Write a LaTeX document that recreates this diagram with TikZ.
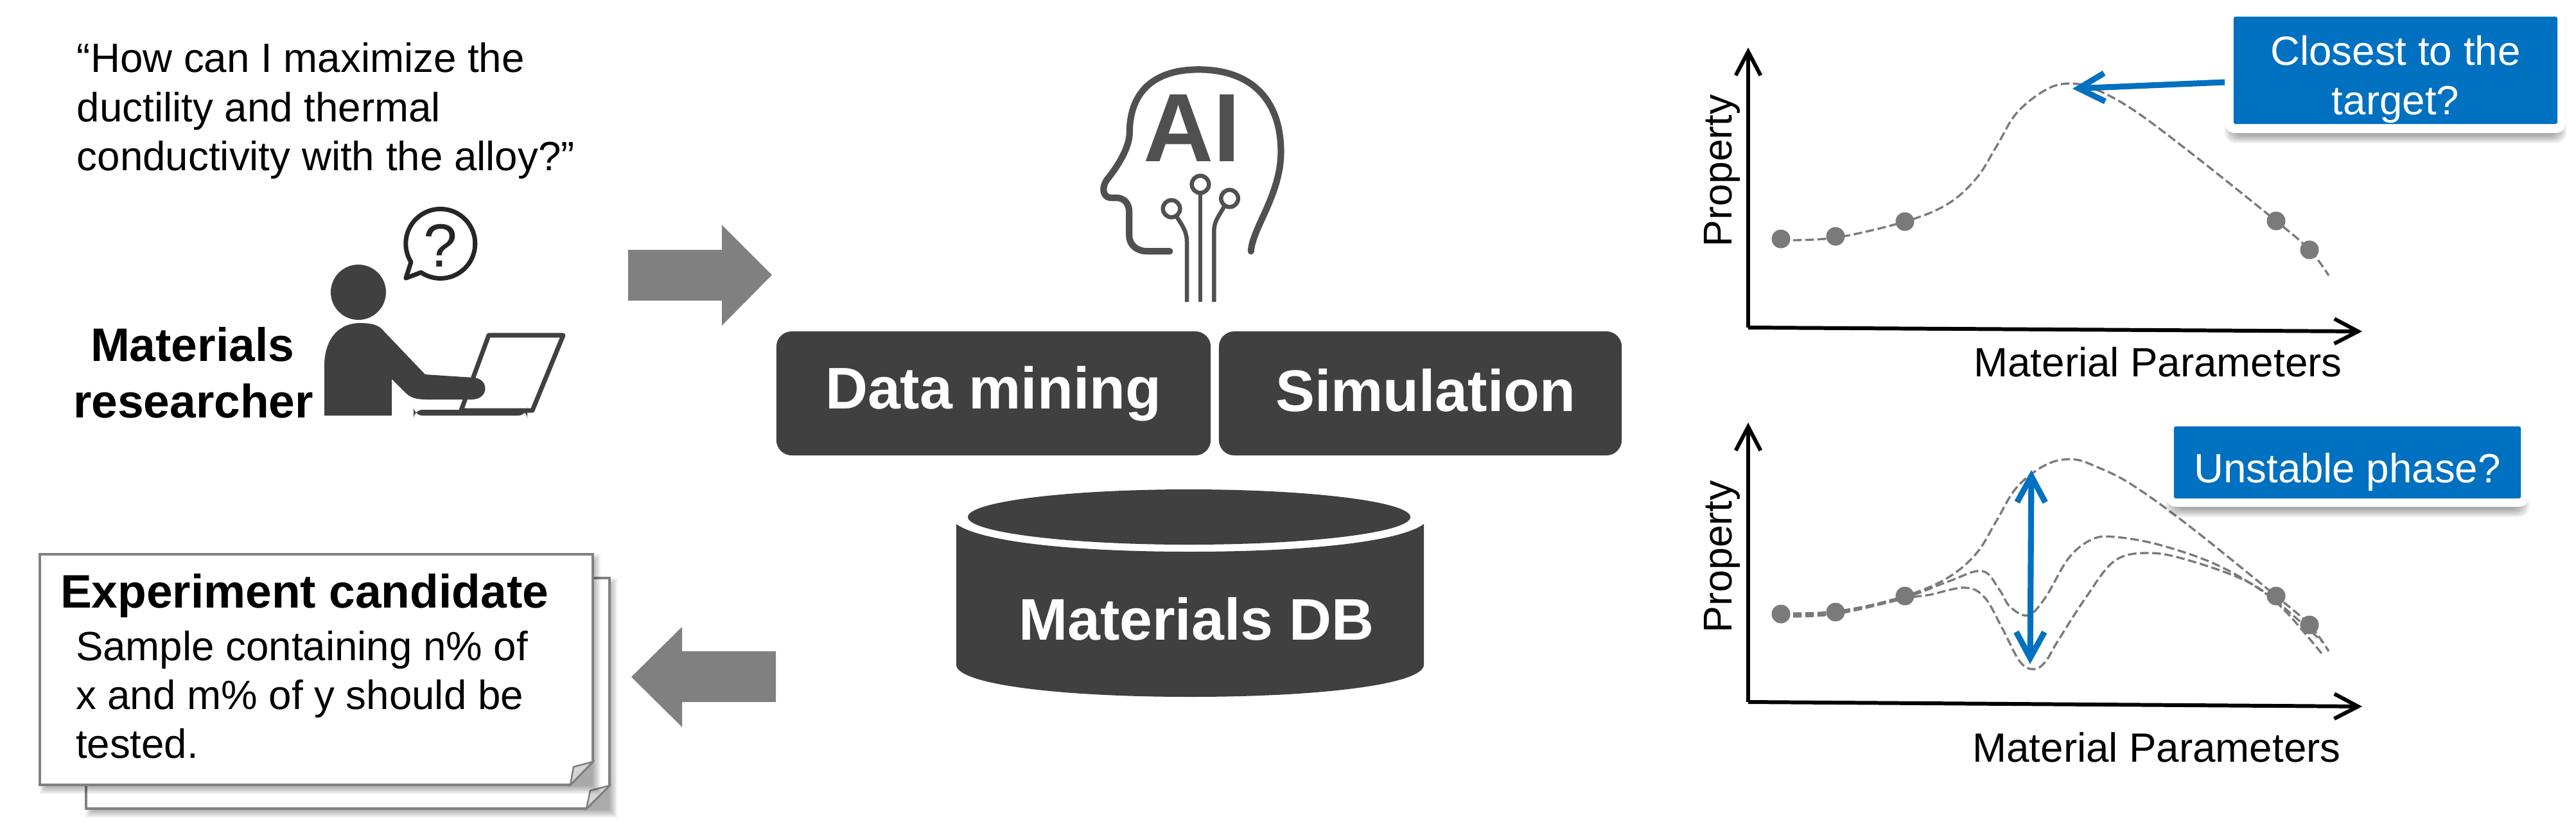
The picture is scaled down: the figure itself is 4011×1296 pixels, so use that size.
\documentclass[tikz,border=0pt]{standalone}
\usepackage{fontspec}
\setmainfont{Liberation Sans}
\usetikzlibrary{arrows.meta}
\definecolor{dark}{HTML}{404040}
\definecolor{headgray}{HTML}{505050}
\definecolor{midgray}{HTML}{808080}
\definecolor{dashgray}{HTML}{7A7A7A}
\definecolor{flap}{HTML}{D4D4D4}
\definecolor{blueb}{HTML}{0070C0}
\newcommand{\softshadow}[5]{%
  \foreach \d in {0,2,...,12}{%
    \fill[black,opacity=.055,rounded corners=#5]
      ({#1+\d},{#2+\d}) rectangle ({#3+12-\d},{#4+14-\d});}}
\tikzset{
  x=0.01cm,y=-0.01cm,
  every node/.style={inner sep=0pt,outer sep=0pt},
  body/.style={font=\fontsize{18.1}{21}\selectfont,anchor=base west},
  bodyc/.style={font=\fontsize{18.1}{21}\selectfont,anchor=base},
  boldt/.style={font=\fontsize{20.8}{24}\selectfont\bfseries,anchor=base west},
  whitet/.style={font=\fontsize{26}{30}\selectfont\bfseries,text=white,anchor=base west},
  darkbox/.style={rectangle,rounded corners=0.24cm,fill=dark,minimum height=1.93cm},
  bigarrow/.style={fill=midgray},
  paper/.style={fill=white,draw=midgray,line width=1.1pt,line join=miter},
  flapst/.style={fill=flap,draw=midgray,line width=.7pt},
  axis/.style={draw=black,line width=1.7pt,-{Straight Barb[length=10.5pt,width=11pt]}},
  dashcurve/.style={draw=dashgray,line width=.95pt,dash pattern=on 3.8pt off 1.6pt},
  datadot/.style={circle,fill=midgray!95!black,minimum size=0.29cm},
  bluearrow/.style={draw=blueb,line width=2.6pt},
  calloutw/.style={rectangle,fill=white,rounded corners=0.16cm},
  calloutb/.style={rectangle,fill=blueb,rounded corners=0.03cm},
  calltext/.style={font=\fontsize{18.1}{21}\selectfont,text=white},
  proplabel/.style={rotate=90,font=\fontsize{17.8}{21}\selectfont,anchor=base west},
  headline/.style={draw=headgray,line width=2.9pt,line cap=round,line join=round},
  wire/.style={draw=headgray,line width=1.85pt}
}
\begin{document}
\begin{tikzpicture}
\useasboundingbox (0,0) rectangle (4011,1296);

% ---------- question ----------
\node[body] (q1) at (120,112) {“How can I maximize the};
\node[body] (q2) at (120,189) {ductility and thermal};
\node[body] (q3) at (120,265) {conductivity with the alloy?”};

% ---------- researcher ----------
\draw[line width=2pt,line join=round,draw=black!85] (632,433) -- (640,408) arc[start angle=148,end angle=484,radius=54] -- cycle;
\node[font=\fontsize{27}{30}\selectfont,anchor=base,text=black!85] (qmark) at (686,415) {?};
\fill[dark] (558,455) circle[radius=43];
\draw[dark,line width=2pt,line join=round] (761,522) -- (877,522) -- (829,639) -- (718,639) -- cycle;
\fill[dark,rounded corners=4pt] (644,638) rectangle (821,647);
\fill[dark] (505,647) -- (505,570) .. controls (505,525) and (530,503) .. (560,503)
  .. controls (580,503) and (590,506) .. (598,516) -- (662,583) -- (738,588)
  .. controls (762,590) and (762,622) .. (734,622) -- (665,622)
  .. controls (650,622) and (640,620) .. (632,612) -- (610,590) -- (610,647) -- cycle;
\node[boldt] (mat) at (141,562) {Materials};
\node[boldt] (res) at (114,650) {researcher};

% ---------- block arrows ----------
\fill[bigarrow] (978,389) -- (1124,389) -- (1124,350) -- (1202,428) -- (1124,507) -- (1124,468) -- (978,468) -- cycle;
\fill[bigarrow] (1208,1014) -- (1062,1014) -- (1062,976) -- (983,1054) -- (1062,1132) -- (1062,1093) -- (1208,1093) -- cycle;

% ---------- papers ----------
\softshadow{134}{900}{949}{1259}{0pt}
\draw[paper] (134,900) -- (949,900) -- (949,1223) -- (913,1259) -- (134,1259) -- cycle;
\draw[flapst] (949,1223) -- (919,1231) -- (913,1259) -- cycle;
\softshadow{62}{863}{923}{1222}{0pt}
\draw[paper] (62,863) -- (923,863) -- (923,1186) -- (888,1222) -- (62,1222) -- cycle;
\draw[flapst] (923,1186) -- (893,1194) -- (888,1222) -- cycle;
\node[boldt] (exp) at (94,946) {Experiment candidate};
\node[body] (s1) at (118,1028) {Sample containing n\% of};
\node[body] (s2) at (118,1104) {x and m\% of y should be};
\node[body] (s3) at (118,1180) {tested.};

% ---------- AI head ----------
\begin{scope}[shift={(1650,90)},x=0.003333cm,y=-0.003333cm]
\draw[headline] (515,905) -- (410,905) .. controls (360,905) and (325,875) .. (325,830) -- (325,720)
  .. controls (325,680) and (300,655) .. (265,655) -- (240,655)
  .. controls (205,655) and (190,610) .. (225,565)
  .. controls (270,510) and (327,420) .. (327,350)
  .. controls (327,180) and (420,55) .. (650,55)
  .. controls (900,55) and (1035,200) .. (1035,440)
  .. controls (1035,640) and (900,800) .. (895,905);
\draw[wire] (658,592) circle[radius=40];
\draw[wire] (523,706) circle[radius=40];
\draw[wire] (795,658) circle[radius=40];
\draw[wire] (658,632) -- (658,1142);
\draw[wire] (548,745) .. controls (575,785) and (595,815) .. (595,860) -- (595,1142);
\draw[wire] (770,695) .. controls (745,740) and (722,765) .. (722,810) -- (722,1142);
\node[font=\fontsize{43}{47}\selectfont\bfseries,text=headgray,anchor=base] (ai) at (620,485) {AI};
\end{scope}

% ---------- boxes ----------
\node[darkbox,minimum width=6.76cm] (dm) at (1547,612.5) {};
\node[darkbox,minimum width=6.27cm] (sim) at (2211.5,612.5) {};
\node[whitet] (dmt) at (1285,636) {Data mining};
\node[whitet] (simt) at (1986,640) {Simulation};

% ---------- database ----------
\fill[dark] (1489,816) .. controls (1530,845) and (1680,859) .. (1853,859)
  .. controls (2026,859) and (2176,845) .. (2217,816) -- (2217,1035)
  .. controls (2217,1065) and (2060,1085) .. (1853,1085)
  .. controls (1646,1085) and (1489,1065) .. (1489,1035) -- cycle;
\fill[dark] (1851.5,805) ellipse[x radius=344.5,y radius=43];
\node[whitet] (dbt) at (1586,996) {Materials DB};

% ---------- chart 1 ----------
\coordinate (o1) at (2722,510);
\coordinate (ytop1) at (2722,74);
\coordinate (xend1) at (3678,516);
\draw[axis] (o1) -- (ytop1);
\draw[axis] (o1) -- (xend1);
\draw[dashcurve] plot[smooth,tension=.6] coordinates {(2773,374) (2858,370) (2966,345) (3032,318) (3077,278) (3108,229) (3140,176) (3185,140) (3221,130) (3260,138) (3320,170) (3410,237) (3544,344) (3596,389) (3626,429)};
\node[datadot] (a1) at (2773,372) {};
\node[datadot] (a2) at (2858,368) {};
\node[datadot] (a3) at (2966,345) {};
\node[datadot] (a4) at (3544,344) {};
\node[datadot] (a5) at (3596,389) {};
\node[proplabel] (py1) at (2696,384) {Property};
\node[bodyc] (mp1) at (3360,586) {Material Parameters};

% ---------- callout 1 ----------
\softshadow{3464}{14}{3984}{209}{0.16cm}
\node[calloutw,minimum width=5.31cm,minimum height=1.95cm] (cw1) at (3729.5,109.5) {};
\node[calloutb,minimum width=5.04cm,minimum height=1.67cm] (cb1) at (3730,109.5) {};
\node[calltext,anchor=base] (c1a) at (3730,101) {Closest to the};
\node[calltext,anchor=base] (c1b) at (3730,178) {target?};
\coordinate (from1) at (3464,128);
\coordinate (peak1) at (3227,138);
\draw[bluearrow,-{Straight Barb[length=11.5pt,width=12.5pt]}] (from1) -- (peak1);

% ---------- chart 2 ----------
\coordinate (o2) at (2722,1093);
\coordinate (ytop2) at (2722,658);
\coordinate (xend2) at (3678,1100);
\draw[axis] (o2) -- (ytop2);
\draw[axis] (o2) -- (xend2);
\draw[dashcurve] plot[smooth,tension=.6] coordinates {(2773,958) (2858,954) (2966,928) (3032,900) (3077,862) (3108,812) (3140,759) (3185,724) (3226,715) (3265,727) (3320,755) (3410,820) (3544,928) (3596,973) (3626,1014)};
\draw[dashcurve] plot[smooth,tension=.6] coordinates {(2773,955) (2858,952) (2966,930) (3032,906) (3086,889) (3113,918) (3130,945) (3158,958) (3185,930) (3221,869) (3257,840) (3293,836) (3365,849) (3455,881) (3536,930) (3617,1000)};
\draw[dashcurve] plot[smooth,tension=.6] coordinates {(2773,960) (2858,956) (2966,932) (3005,926) (3059,915) (3090,930) (3118,979) (3145,1030) (3167,1042) (3185,1030) (3203,1000) (3248,930) (3293,873) (3347,861) (3410,873) (3500,906) (3554,947) (3617,1020)};
\node[datadot] (b1) at (2773,956) {};
\node[datadot] (b2) at (2858,953) {};
\node[datadot] (b3) at (2966,928) {};
\node[datadot] (b4) at (3544,928) {};
\node[datadot] (b5) at (3596,973) {};
\coordinate (hi) at (3163,732);
\coordinate (lo) at (3161,1034);
\draw[bluearrow,{Straight Barb[length=11.5pt,width=12.5pt]}-{Straight Barb[length=11.5pt,width=12.5pt]}] (hi) -- (lo);
\node[proplabel] (py2) at (2696,985) {Property};
\node[bodyc] (mp2) at (3358,1186) {Material Parameters};

% ---------- callout 2 ----------
\softshadow{3372}{651}{3926}{791}{0.16cm}
\node[calloutw,minimum width=5.66cm,minimum height=1.40cm] (cw2) at (3655,719) {};
\node[calloutb,minimum width=5.40cm,minimum height=1.12cm] (cb2) at (3655,720) {};
\node[calltext,anchor=base] (c2) at (3655,751) {Unstable phase?};
\end{tikzpicture}
\end{document}
